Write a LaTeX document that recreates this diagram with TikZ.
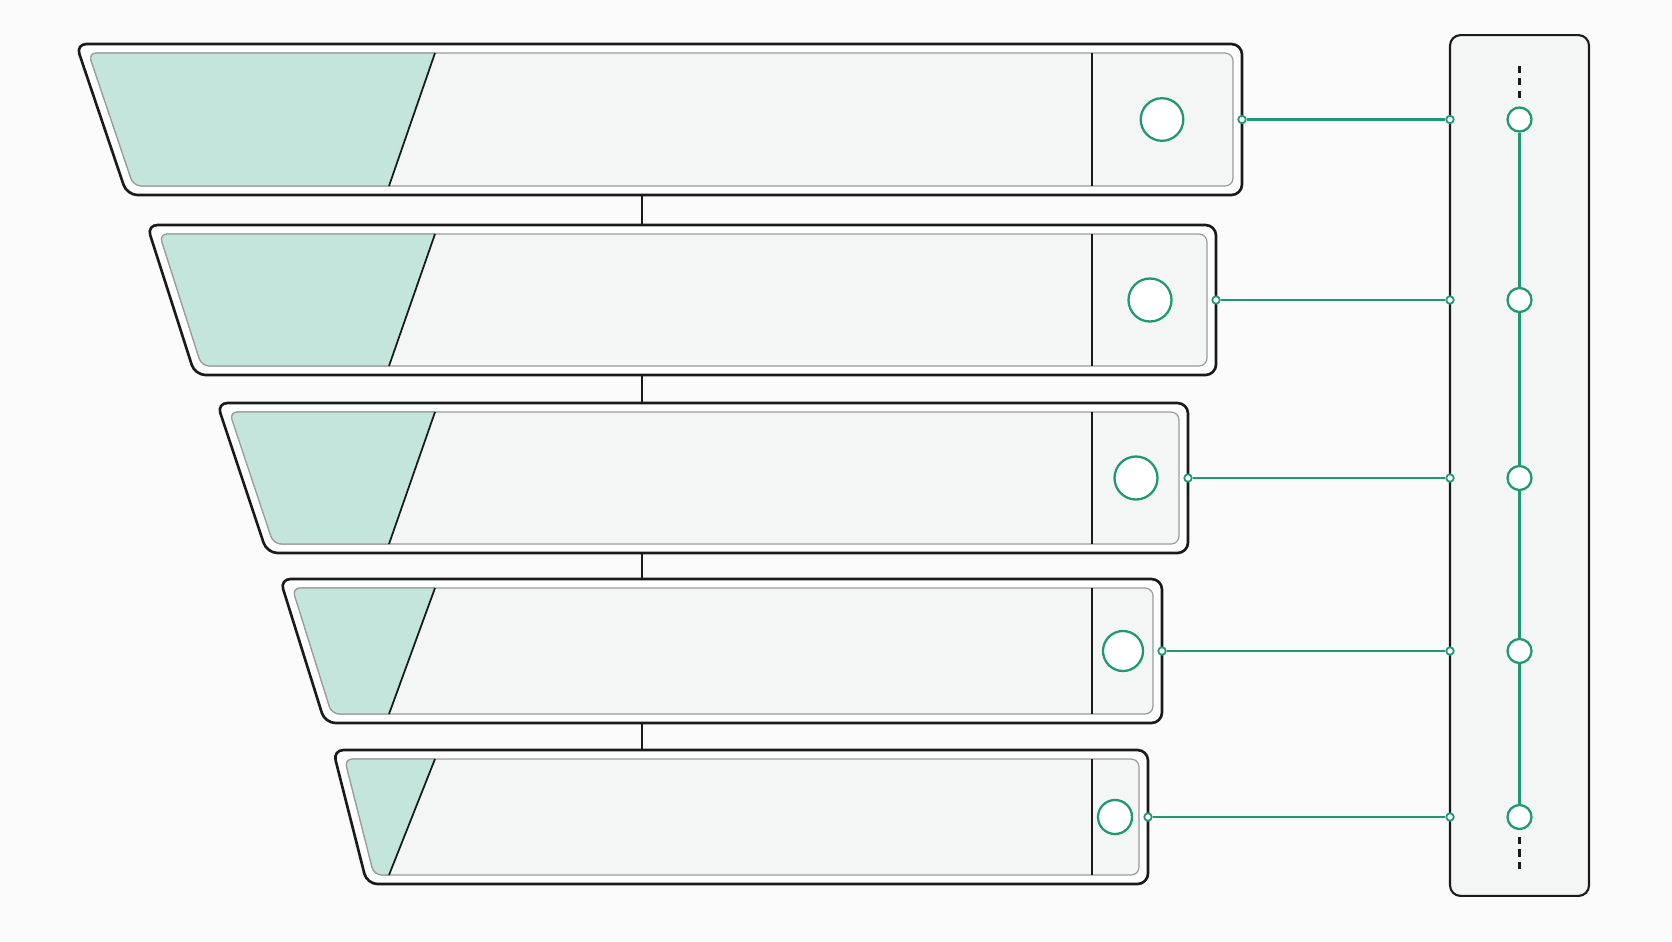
\documentclass[tikz,border=0pt]{standalone}
\usepackage{xcolor}
\usepackage{tikz}
\definecolor{pagebg}{HTML}{FBFBFB}
\definecolor{barline}{HTML}{1A1A1A}
\definecolor{innerline}{HTML}{9A9C9B}
\definecolor{innerfill}{HTML}{F4F6F5}
\definecolor{tealfill}{HTML}{C4E5DB}
\definecolor{accent}{HTML}{1F9973}

\begin{document}
\begin{tikzpicture}[x=0.02cm,y=-0.02cm,
    barout/.style={draw=barline,line width=1.5pt,fill=white,rounded corners=6pt},
    barin/.style={draw=innerline,line width=0.7pt,fill=innerfill,rounded corners=4.5pt},
    ring/.style={draw=accent,circle,line width=1.3pt,fill=white,inner sep=0pt},
    dot/.style={draw=accent,circle,line width=1pt,fill=white,inner sep=0pt,minimum size=0.15cm},
    link/.style={draw=accent,line width=1.3pt},
    stem/.style={draw=barline,line width=1.2pt},
    dashline/.style={draw=barline,line width=1.5pt,dash pattern=on 4pt off 3pt}]
    \fill[pagebg,use as bounding box] (0,0) rectangle (1672,941);

    \foreach \i/\tp/\bt/\lt/\lb/\ilt/\ilb/\rx/\cx/\cr/\m in {
        1/44/195/76/127/88.5/133.5/1242/1162/21.3/119.5,
        2/225/375/147/195/159.4/201.6/1216/1150/21.5/300,
        3/403/553/217/267/229.5/273.5/1188/1136/21.5/478,
        4/579/723/280/325/292.3/331.7/1162/1123/20/651,
        5/750/884/333/367/344.6/374/1148/1115/17/817} {
        \draw[barout] (\lt,\tp) -- (\rx,\tp) -- (\rx,\bt) -- (\lb,\bt) -- cycle;
        \draw[barin] (\ilt,\tp+9) -- (\rx-9,\tp+9) -- (\rx-9,\bt-9) -- (\ilb,\bt-9) -- cycle;
        \begin{scope}
            \clip[rounded corners=4.5pt] (\ilt,\tp+9) -- (\rx-9,\tp+9) -- (\rx-9,\bt-9) -- (\ilb,\bt-9) -- cycle;
            \fill[tealfill] (0,\tp+9) -- (435,\tp+9) -- (389,\bt-9) -- (0,\bt-9) -- cycle;
        \end{scope}
        \draw[innerline,line width=0.7pt,rounded corners=4.5pt] (435,\tp+9) -- (\ilt,\tp+9) -- (\ilb,\bt-9) -- (389,\bt-9);
        \draw[barline,line width=1pt] (435,\tp+9) -- (389,\bt-9);
        \draw[barline,line width=1.1pt] (1092,\tp+9) -- (1092,\bt-9);
        \node[ring,minimum size={2*\cr*0.02cm}] (c\i) at (\cx,\m) {};
        \node[dot] (d\i) at (\rx,\m) {};
        \coordinate (bt\i) at (642,\tp);
        \coordinate (bb\i) at (642,\bt);
    }
    \foreach \i/\j in {1/2,2/3,3/4,4/5}
        \draw[stem] (bb\i) -- (bt\j);

    \node[draw=barline,line width=1.2pt,fill=innerfill,rounded corners=6pt,
        minimum width=2.78cm,minimum height=17.22cm] (panel) at (1519.5,465.5) {};
    \foreach \i/\m in {1/119.5,2/300,3/478,4/651,5/817} {
        \node[ring,minimum size=0.48cm] (s\i) at (1519.5,\m) {};
        \node[dot] (p\i) at (1450,\m) {};
        \draw[link] (d\i) -- (p\i);
    }
    \foreach \i/\j in {1/2,2/3,3/4,4/5}
        \draw[link] (s\i) -- (s\j);
    \coordinate (dtop) at (1519.5,66);
    \coordinate (dbot) at (1519.5,869);
    \draw[dashline,shorten >=3.4pt] (dtop) -- (s1);
    \draw[dashline,shorten <=4pt] (s5) -- (dbot);
\end{tikzpicture}
\end{document}
